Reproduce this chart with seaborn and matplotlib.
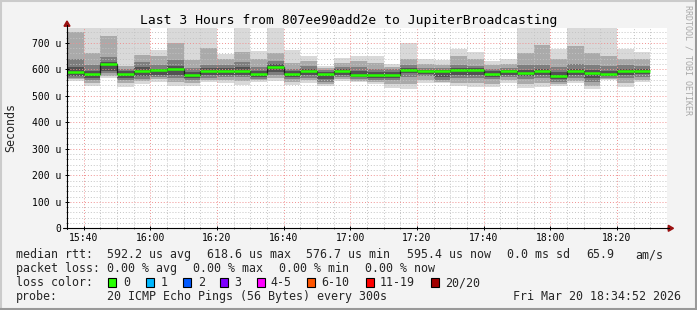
import numpy as np
import pandas as pd
import matplotlib
matplotlib.use("Agg")
import matplotlib.pyplot as plt
import matplotlib.dates as mdates
from matplotlib.ticker import MultipleLocator, FuncFormatter
from matplotlib.lines import Line2D
from matplotlib.patches import Polygon, Rectangle
import seaborn as sns

# ---------------- data ----------------
bar_starts = pd.date_range("2026-03-20 15:35", periods=35, freq="5min")
hi  = [760, 760, 760, 760, 760, 672, 760, 760, 760, 658, 760, 671, 760, 674, 652, 614, 641, 650,
       650, 622, 698, 638, 635, 675, 666, 632, 638, 760, 760, 675, 760, 760, 760, 675, 666]
u1  = [740, 662, 725, 612, 655, 650, 700, 635, 680, 640, 666, 640, 660, 625, 630, 605, 625, 632,
       625, 610, 640, 620, 618, 650, 640, 615, 620, 660, 692, 640, 690, 660, 650, 640, 640]
u2  = [640, 615, 645, 600, 628, 615, 635, 605, 618, 618, 628, 608, 632, 602, 612, 596, 610, 608,
       602, 600, 615, 606, 604, 615, 612, 602, 607, 615, 618, 608, 622, 615, 612, 615, 614]
u3  = [610, 595, 628, 592, 610, 603, 612, 590, 604, 605, 608, 592, 620, 592, 603, 590, 600, 592,
       590, 590, 606, 598, 598, 605, 605, 592, 598, 598, 602, 590, 602, 598, 595, 603, 603]
med = [589, 581, 618.6, 583, 592, 596, 600, 577, 595, 595, 595, 581, 610, 583, 595, 583, 593, 580,
       580, 580, 599, 592, 592, 598, 598, 584, 592, 588, 592, 576.7, 592, 588, 583, 595, 595.4]
l3  = [575, 568, 595, 568, 575, 580, 580, 568, 578, 580, 580, 572, 590, 572, 578, 565, 580, 570,
       568, 568, 585, 582, 570, 580, 578, 572, 580, 575, 578, 562, 578, 568, 574, 578, 582]
l2  = [567, 560, 585, 560, 565, 572, 568, 560, 568, 570, 570, 565, 578, 563, 568, 552, 570, 563,
       560, 558, 572, 574, 560, 568, 568, 562, 570, 565, 568, 553, 568, 553, 568, 568, 572]
l1  = [562, 548, 576, 548, 555, 563, 552, 550, 560, 560, 555, 558, 566, 553, 558, 543, 562, 556,
       552, 543, 545, 560, 552, 550, 548, 545, 558, 545, 548, 545, 555, 538, 563, 548, 560]
lo  = [557, 536, 568, 533, 543, 553, 537, 537, 553, 550, 541, 553, 557, 541, 547, 538, 557, 551,
       545, 528, 525, 548, 547, 537, 534, 532, 547, 531, 534, 537, 547, 525, 560, 534, 553]

y_ticks = [0, 100, 200, 300, 400, 500, 600, 700]
title = "Last 3 Hours from 807ee90add2e to JupiterBroadcasting"
loss_labels = ["0", "1", "2", "3", "4-5", "6-10", "11-19", "20/20"]
loss_colors = ["#26ff00", "#00b8ff", "#0059ff", "#7e00ff", "#ff00ff", "#ff5500", "#ff0000", "#a10000"]

# ---------------- style ----------------
sns.set_style("white")
plt.rcParams["font.family"] = ["DejaVu Sans Mono"]

W, H = 697, 310
fig = plt.figure(figsize=(W / 100, H / 100), dpi=100)
fig.patch.set_facecolor("#f3f3f3")

def fx(x):
    return x / W

def fy(y):
    return 1 - y / H

ax_left, ax_right, ax_top, ax_bot = 67, 667, 28.3, 228.3
ax = fig.add_axes([fx(ax_left), fy(ax_bot), (ax_right - ax_left) / W, (ax_bot - ax_top) / H])
ax.set_facecolor("white")

xs = mdates.date2num(bar_starts)
width = 5 / 1440.0

levels = [(lo, hi, "#d9d9d9"), (l1, u1, "#aaaaaa"), (l2, u2, "#7e7e7e"), (l3, u3, "#525252")]
for low, high, col in levels:
    low = np.asarray(low, float)
    high = np.asarray(high, float)
    ax.bar(xs, high - low, bottom=low, width=width, align="edge", color=col,
           edgecolor="none", linewidth=0, zorder=1)

# median: dark step line, then green segments
sns.lineplot(x=xs, y=med, drawstyle="steps-post", color="#202020", linewidth=0.9,
             estimator=None, ax=ax, zorder=4)
ax.hlines(med, xs, xs + width, colors=loss_colors[0], linewidth=1.8, zorder=5)

start = mdates.date2num(pd.Timestamp("2026-03-20 15:35"))
ax.set_xlim(start, start + 180 / 1440.0)
ax.set_ylim(0, 755)

ax.xaxis.set_major_locator(mdates.MinuteLocator(byminute=[0, 20, 40]))
ax.xaxis.set_minor_locator(mdates.MinuteLocator(byminute=range(0, 60, 5)))
ax.xaxis.set_major_formatter(mdates.DateFormatter("%H:%M"))
ax.yaxis.set_major_locator(MultipleLocator(100))
ax.yaxis.set_minor_locator(MultipleLocator(20))
ax.set_yticks(y_ticks)
ax.yaxis.set_major_formatter(FuncFormatter(lambda v, p: "0" if v == 0 else f"{int(v)} u"))

ax.set_axisbelow(False)
ax.grid(which="minor", color="#c4c4c4", linestyle=(0, (1, 2)), linewidth=0.7, zorder=2)
ax.grid(which="major", color="#f09090", linestyle=(0, (1, 2)), linewidth=0.7, zorder=2)

for s in ax.spines.values():
    s.set_visible(False)
ax.tick_params(axis="both", which="major", length=3.0, width=0.7, color="black",
               labelsize=7, labelcolor="black", direction="inout")
ax.tick_params(axis="both", which="minor", length=1.4, width=0.5, color="#555555",
               direction="inout")
ax.tick_params(axis="y", which="major", pad=2.6)
ax.tick_params(axis="x", which="major", pad=1.6)
ax.tick_params(bottom=True, left=True, which="both")

# axis lines with arrows
fig.add_artist(Line2D([fx(67), fx(67)], [fy(228.8), fy(25)], color="black", lw=0.8))
fig.add_artist(Line2D([fx(63), fx(669)], [fy(228.3), fy(228.3)], color="black", lw=0.8))
fig.add_artist(Polygon([(fx(67), fy(21.0)), (fx(64.0), fy(26.2)), (fx(70.0), fy(26.2))],
                       closed=True, color="#9a1010", transform=fig.transFigure))
fig.add_artist(Polygon([(fx(673.5), fy(228.3)), (fx(668.3), fy(225.3)), (fx(668.3), fy(231.3))],
                       closed=True, color="#9a1010", transform=fig.transFigure))

# frame
fig.add_artist(Line2D([0, 1], [fy(0.5), fy(0.5)], color="#cbcbcb", lw=1.5))
fig.add_artist(Line2D([fx(0.5), fx(0.5)], [0, 1], color="#cbcbcb", lw=1.5))
fig.add_artist(Line2D([0, 1], [fy(309.3), fy(309.3)], color="#999999", lw=1.5))
fig.add_artist(Line2D([fx(696.3), fx(696.3)], [0, 1], color="#999999", lw=1.5))

# texts
fig.text(fx(348.5), fy(24.0), title, ha="center", va="baseline", fontsize=9.4, color="black")
fig.text(fx(11), fy(127), "Seconds", rotation=90, ha="center", va="center", fontsize=8.4)
fig.text(fx(688), fy(60), "RRDTOOL / TOBI OETIKER", rotation=270, ha="center", va="center",
         fontsize=6, color="#a8a8a8")

LEG = 8.4
b1, b2, b3, b4 = 258.4, 272.2, 286.0, 299.8
line1 = [(16, "median rtt:"), (107.3, "592.2 us avg"), (207.3, "618.6 us max"),
         (306.0, "576.7 us min"), (406.7, "595.4 us now"), (506.7, "0.0 ms sd"),
         (586.7, "65.9"), (635.0, "am/s")]
line2 = [(16, "packet loss:"), (107.3, "0.00 % avg"), (193.3, "0.00 % max"),
         (279.0, "0.00 % min"), (365.0, "0.00 % now")]
line4 = [(16, "probe:"), (107.3, "20 ICMP Echo Pings (56 Bytes) every 300s"),
         (513.3, "Fri Mar 20 18:34:52 2026")]
for base, items in ((b1, line1), (b2, line2), (b4, line4)):
    for x, t in items:
        fig.text(fx(x), fy(base), t, ha="left", va="baseline", fontsize=LEG)

fig.text(fx(16), fy(b3), "loss color:", ha="left", va="baseline", fontsize=LEG)
box_x = [108.3, 145.7, 182.7, 219.7, 256.7, 307.3, 365.7, 430.7]
lab_x = [123.3, 160.7, 197.7, 234.3, 270.7, 321.7, 380.0, 445.0]
for bx, lx, lab, col in zip(box_x, lab_x, loss_labels, loss_colors):
    fig.add_artist(Rectangle((fx(bx), fy(286.7)), 8 / W, 8.3 / H, facecolor=col,
                             edgecolor="black", linewidth=0.8, transform=fig.transFigure))
    fig.text(fx(lx), fy(b3), lab, ha="left", va="baseline", fontsize=LEG)

fig.savefig("out.png", dpi=100, facecolor=fig.get_facecolor())
